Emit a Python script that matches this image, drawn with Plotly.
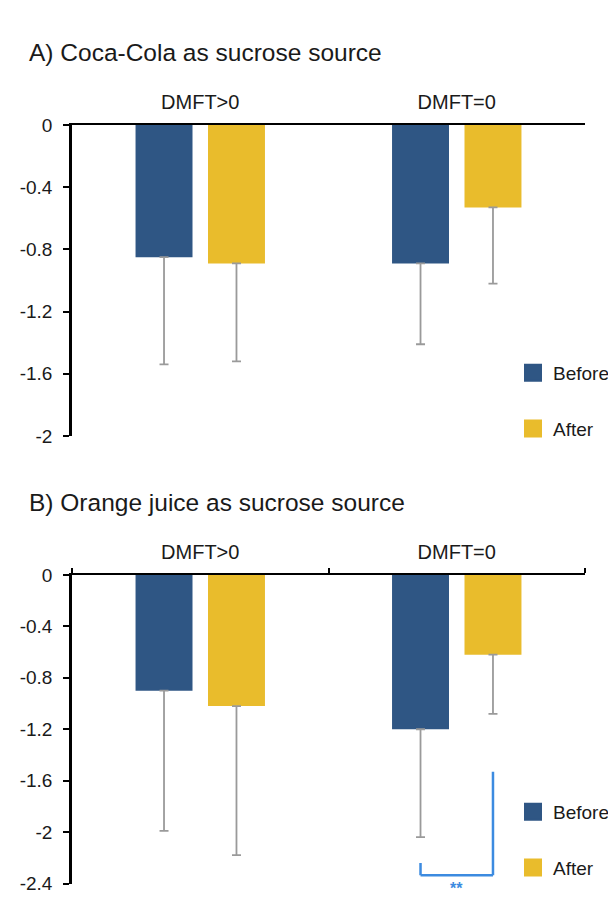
import plotly.graph_objects as go

# ---------------- data ----------------
CATEGORIES = ["DMFT>0", "DMFT=0"]
SERIES = ["Before", "After"]

A_BEFORE = [-0.85, -0.89]
A_BEFORE_ERR = [0.69, 0.52]
A_AFTER = [-0.89, -0.53]
A_AFTER_ERR = [0.63, 0.49]

B_BEFORE = [-0.90, -1.20]
B_BEFORE_ERR = [1.09, 0.84]
B_AFTER = [-1.02, -0.62]
B_AFTER_ERR = [1.16, 0.46]

A_TICKS = [0, -0.4, -0.8, -1.2, -1.6, -2]
A_TICK_LABELS = ["0", "-0.4", "-0.8", "-1.2", "-1.6", "-2"]
B_TICKS = [0, -0.4, -0.8, -1.2, -1.6, -2, -2.4]
B_TICK_LABELS = ["0", "-0.4", "-0.8", "-1.2", "-1.6", "-2", "-2.4"]
A_RANGE = [-2, 0]
B_RANGE = [-2.4, 0]

TITLE_A = "A) Coca-Cola as sucrose source"
TITLE_B = "B) Orange juice as sucrose source"

# significance bracket (panel B, DMFT=0 Before vs After)
BRACKET_LEFT_TOP = -2.24
BRACKET_BOTTOM = -2.335
BRACKET_RIGHT_TOP = -1.53
STARS_Y = -2.44
STARS = "<b>**</b>"

# ---------------- style ----------------
PAGE_MARGIN = 8          # browser body margin around the plot div
W, H = 616 - PAGE_MARGIN, 905 - PAGE_MARGIN
BLUE = "#2F5684"
GOLD = "#E9BC2C"
ERR = "#9A9A9A"
SIG = "#3C8BE0"
TXT = "#1a1a1a"
FONT = "Liberation Sans, Arial, Helvetica, sans-serif"
BARGAP = 0.435
BARGROUPGAP = 0.214


def px_x(x):
    return (x - PAGE_MARGIN) / W


def px_y(y):
    return 1 - (y - PAGE_MARGIN) / H


X_DOM = [px_x(72), px_x(585)]
A_DOM = [px_y(436), px_y(125)]
B_DOM = [px_y(883.5), px_y(575)]

fig = go.Figure()


def add_bars(vals, errs, name, color, xa, ya):
    fig.add_trace(go.Bar(
        x=CATEGORIES, y=vals, name=name, marker=dict(color=color, line=dict(width=0)),
        error_y=dict(type="data", symmetric=False, array=[0] * len(errs), arrayminus=errs,
                     color=ERR, thickness=1.8, width=4.5),
        showlegend=False, xaxis=xa, yaxis=ya))


add_bars(A_BEFORE, A_BEFORE_ERR, "Before", BLUE, "x", "y")
add_bars(A_AFTER, A_AFTER_ERR, "After", GOLD, "x", "y")
add_bars(B_BEFORE, B_BEFORE_ERR, "Before", BLUE, "x2", "y2")
add_bars(B_AFTER, B_AFTER_ERR, "After", GOLD, "x2", "y2")

# legend entries (square swatches)
for leg, xa, ya in [("legend", "x", "y"), ("legend2", "x2", "y2")]:
    for name, color in zip(SERIES, [BLUE, GOLD]):
        fig.add_trace(go.Scatter(
            x=[None], y=[None], mode="markers", name=name,
            marker=dict(symbol="square", size=16, color=color, line=dict(width=2, color=color)),
            legend=leg, legendgroup=name + leg, showlegend=True, xaxis=xa, yaxis=ya))

axis_font = dict(family=FONT, size=19, color=TXT)
cat_font = dict(family=FONT, size=20, color=TXT)

common_x = dict(type="category", side="top", showline=True, linecolor="black", linewidth=2,
                showgrid=False, zeroline=False, tickfont=cat_font, domain=X_DOM,
                categoryorder="array", categoryarray=CATEGORIES, fixedrange=True)
common_y = dict(showline=True, linecolor="black", linewidth=2.5, showgrid=False, zeroline=False,
                ticks="outside", ticklen=6, tickwidth=2, tickcolor="black", tickfont=axis_font,
                ticklabelstandoff=7, fixedrange=True)

legend_common = dict(xanchor="left", yanchor="top", font=dict(family=FONT, size=19, color=TXT),
                     bgcolor="rgba(0,0,0,0)", tracegroupgap=28, itemclick=False)

# significance bracket x positions from bar layout
half_off = (1 - BARGAP) / 4
xl, xr = 1 - half_off, 1 + half_off

shapes = [
    dict(type="line", xref="x2", yref="y2", x0=xl, x1=xl, y0=BRACKET_LEFT_TOP, y1=BRACKET_BOTTOM,
         line=dict(color=SIG, width=2.5)),
    dict(type="line", xref="x2", yref="y2", x0=xl, x1=xr, y0=BRACKET_BOTTOM, y1=BRACKET_BOTTOM,
         line=dict(color=SIG, width=2.5)),
    dict(type="line", xref="x2", yref="y2", x0=xr, x1=xr, y0=BRACKET_BOTTOM, y1=BRACKET_RIGHT_TOP,
         line=dict(color=SIG, width=2.5)),
]

# stars sit just below the axis range -> place in paper coords derived from the y2 scale
stars_paper_y = B_DOM[0] + (STARS_Y - B_RANGE[0]) / (B_RANGE[1] - B_RANGE[0]) * (B_DOM[1] - B_DOM[0])

annotations = [
    dict(text=TITLE_A, xref="paper", yref="paper", x=px_x(27), y=px_y(53), xanchor="left",
         yanchor="middle", showarrow=False, font=dict(family=FONT, size=24.5, color=TXT)),
    dict(text=TITLE_B, xref="paper", yref="paper", x=px_x(27), y=px_y(503), xanchor="left",
         yanchor="middle", showarrow=False, font=dict(family=FONT, size=24.5, color=TXT)),
    dict(text=STARS, xref="x2", yref="paper", x=(xl + xr) / 2, y=stars_paper_y, xanchor="center",
         yanchor="middle", showarrow=False, font=dict(family=FONT, size=16, color=SIG)),
]

fig.update_layout(
    width=W, height=H, autosize=False,
    margin=dict(l=0, r=0, t=0, b=0, autoexpand=False),
    paper_bgcolor="white", plot_bgcolor="white",
    barmode="group", bargap=BARGAP, bargroupgap=BARGROUPGAP,
    font=dict(family=FONT),
    xaxis=dict(**common_x, anchor="y", ticks="", ticklabelstandoff=6),
    yaxis=dict(**common_y, anchor="x", domain=A_DOM, range=A_RANGE,
               tickvals=A_TICKS, ticktext=A_TICK_LABELS),
    xaxis2=dict(**common_x, anchor="y2", ticks="outside", tickson="boundaries", ticklen=5,
                tickwidth=1.5, tickcolor="black", ticklabelstandoff=6),
    yaxis2=dict(**common_y, anchor="x2", domain=B_DOM, range=B_RANGE,
                tickvals=B_TICKS, ticktext=B_TICK_LABELS),
    legend=dict(**legend_common, x=px_x(513), y=px_y(354)),
    legend2=dict(**legend_common, x=px_x(513), y=px_y(793)),
    shapes=shapes,
    annotations=annotations,
)

fig.write_html("out.html")
